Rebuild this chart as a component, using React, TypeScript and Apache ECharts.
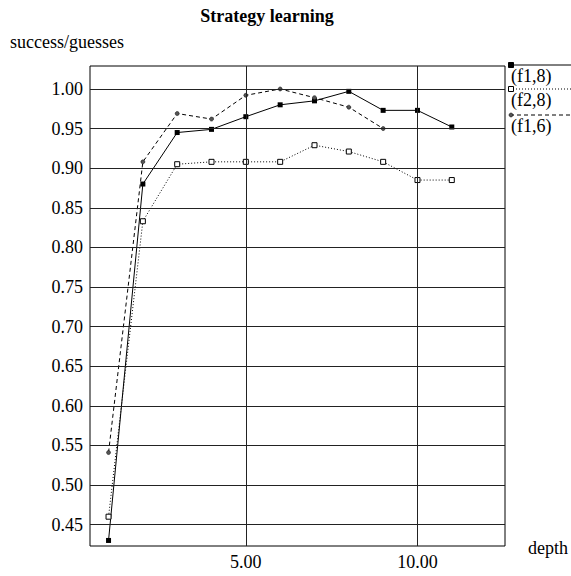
import React, { useEffect, useRef } from "react";
import * as echarts from "echarts";

const depths = [1, 2, 3, 4, 5, 6, 7, 8, 9, 10, 11];
const f1_8 = [0.43, 0.88, 0.945, 0.949, 0.965, 0.98, 0.985, 0.997, 0.973, 0.973, 0.952];
const f2_8 = [0.46, 0.833, 0.905, 0.908, 0.908, 0.908, 0.929, 0.921, 0.908, 0.885, 0.885];
const f1_6 = [0.541, 0.908, 0.969, 0.962, 0.992, 1.0, 0.989, 0.977, 0.95];
const seriesNames = ["(f1,8)", "(f2,8)", "(f1,6)"];
const yTicks = [0.45, 0.5, 0.55, 0.6, 0.65, 0.7, 0.75, 0.8, 0.85, 0.9, 0.95, 1.0];
const xTicks = [5, 10];
const titleText = "Strategy learning";
const yName = "success/guesses";
const xName = "depth";

const FONT = "'Liberation Serif', 'Times New Roman', serif";

export default function App() {
  const ref = useRef<HTMLDivElement>(null);
  useEffect(() => {
    if (!ref.current) return;
    const chart = echarts.init(ref.current, undefined, { renderer: "svg" });
    const pair = (ys: number[]) => ys.map((y, i) => [depths[i], y]);
    const legendYs = [65, 89, 115];
    const legendStyles = [
      { dash: null as any, sym: "fill" },
      { dash: [1, 2], sym: "hollow" },
      { dash: [4, 3], sym: "circle" },
    ];
    const legendGraphics: any[] = [];
    seriesNames.forEach((name, i) => {
      const y = legendYs[i];
      legendGraphics.push({
        type: "line",
        shape: { x1: 510, y1: y, x2: 571, y2: y },
        style: { stroke: "#000", lineWidth: 1, lineDash: legendStyles[i].dash || undefined },
      });
      if (legendStyles[i].sym === "circle") {
        legendGraphics.push({
          type: "circle",
          shape: { cx: 511, cy: y, r: 2 },
          style: { fill: "#555", stroke: "#000", lineWidth: 0.5 },
        });
      } else {
        legendGraphics.push({
          type: "rect",
          shape: { x: 508.5, y: y - 2.5, width: 5, height: 5 },
          style: {
            fill: legendStyles[i].sym === "fill" ? "#000" : "#fff",
            stroke: "#000",
            lineWidth: 1,
          },
        });
      }
      legendGraphics.push({
        type: "text",
        x: 511,
        y: y + 10.5,
        style: {
          text: name,
          font: `18px ${FONT}`,
          fill: "#000",
          textVerticalAlign: "middle",
          textAlign: "left",
        },
      });
    });

    chart.setOption({
      animation: false,
      backgroundColor: "#fff",
      grid: {
        left: 90,
        right: 66,
        top: 66,
        bottom: 30,
        show: true,
        borderColor: "#000",
        borderWidth: 1,
        backgroundColor: "transparent",
      },
      xAxis: {
        type: "value",
        min: 0.46,
        max: 12.55,
        axisLine: { show: false },
        axisTick: { show: false },
        axisLabel: { show: false },
        splitLine: { show: false },
      },
      yAxis: {
        type: "value",
        min: 0.423,
        max: 1.029,
        axisLine: { show: false },
        axisTick: { show: false },
        axisLabel: { show: false },
        splitLine: { show: false },
      },
      graphic: [
        {
          type: "text",
          x: 267,
          y: 16,
          style: {
            text: titleText,
            font: `bold 18px ${FONT}`,
            fill: "#000",
            textAlign: "center",
            textVerticalAlign: "middle",
          },
        },
        {
          type: "text",
          x: 10,
          y: 42,
          style: {
            text: yName,
            font: `18px ${FONT}`,
            fill: "#000",
            textAlign: "left",
            textVerticalAlign: "middle",
          },
        },
        {
          type: "text",
          x: 528,
          y: 548,
          style: {
            text: xName,
            font: `18px ${FONT}`,
            fill: "#000",
            textAlign: "left",
            textVerticalAlign: "middle",
          },
        },
        ...legendGraphics,
      ],
      series: [
        {
          type: "line",
          data: [],
          z: 1,
          silent: true,
          markLine: {
            silent: true,
            symbol: ["none", "none"],
            animation: false,
            lineStyle: { color: "#222", width: 1, type: "solid" },
            label: {
              show: true,
              position: "start",
              distance: 7,
              fontFamily: FONT,
              fontSize: 18,
              color: "#000",
              formatter: (p: any) => Number(p.value).toFixed(2),
            },
            emphasis: { disabled: true },
            data: [
              ...yTicks.map((v) => ({ yAxis: v })),
              ...xTicks.map((v) => ({ xAxis: v })),
            ],
          },
        },
        {
          name: seriesNames[0],
          type: "line",
          data: pair(f1_8),
          z: 3,
          symbol: "rect",
          symbolSize: 5,
          itemStyle: { color: "#000" },
          lineStyle: { color: "#000", width: 1, type: "solid" },
        },
        {
          name: seriesNames[1],
          type: "line",
          data: pair(f2_8),
          z: 3,
          symbol: "rect",
          symbolSize: 5,
          itemStyle: { color: "#fff", borderColor: "#000", borderWidth: 1 },
          lineStyle: { color: "#000", width: 1, type: [1, 2] },
        },
        {
          name: seriesNames[2],
          type: "line",
          data: pair(f1_6),
          z: 3,
          symbol: "circle",
          symbolSize: 4,
          itemStyle: { color: "#555", borderColor: "#000", borderWidth: 0.5 },
          lineStyle: { color: "#000", width: 1, type: [4, 3] },
        },
      ],
    });
    return () => chart.dispose();
  }, []);
  return (
    <div
      ref={ref}
      style={{ position: "fixed", left: 0, top: 0, width: 571, height: 576, background: "#fff" }}
    />
  );
}
